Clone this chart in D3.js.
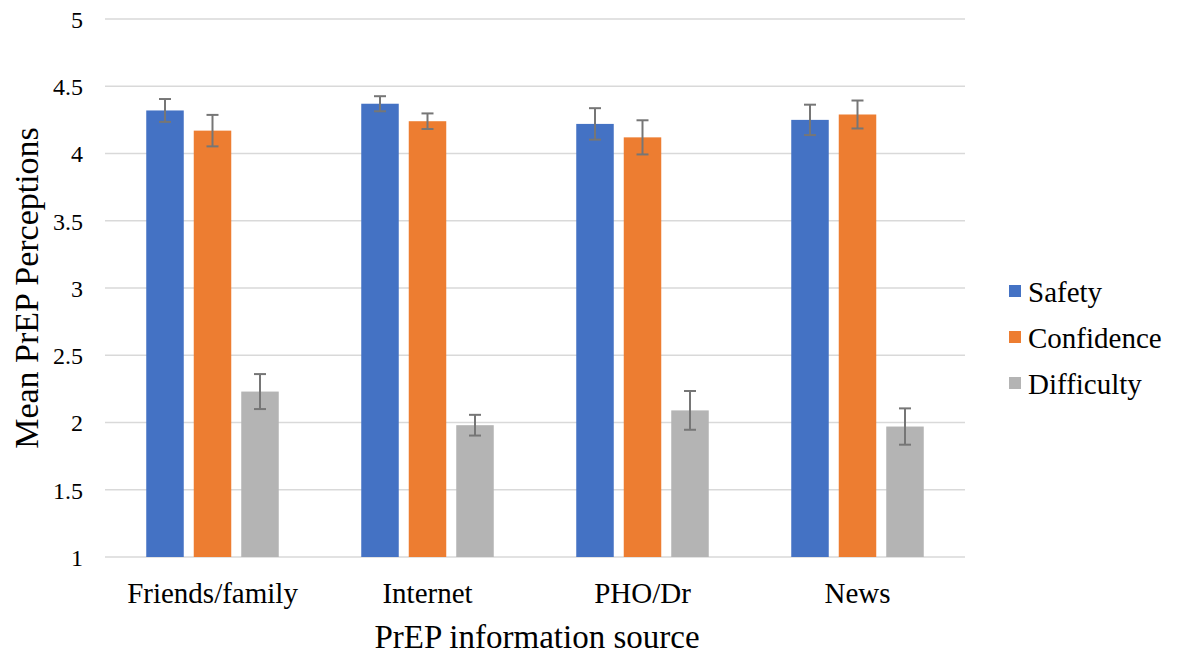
<!DOCTYPE html>
<html>
<head>
<meta charset="utf-8">
<script src="https://cdn.jsdelivr.net/npm/d3@7"></script>
<style>
  html, body { margin: 0; padding: 0; background: #fff; }
  svg { display: block; }
  svg text { font-family: "Liberation Serif", "Times New Roman", serif !important; fill: #000; }
</style>
</head>
<body>
<svg id="chart" width="1180" height="658"></svg>
<script>
const categories = ["Friends/family", "Internet", "PHO/Dr", "News"];
const seriesNames = ["Safety", "Confidence", "Difficulty"];
const seriesColors = ["#4472C4", "#ED7D31", "#B4B4B4"];
const safety = [4.32, 4.37, 4.22, 4.25];
const confidence = [4.17, 4.24, 4.12, 4.29];
const difficulty = [2.23, 1.98, 2.09, 1.97];
const safetyErr = [0.085, 0.056, 0.117, 0.113];
const confidenceErr = [0.117, 0.058, 0.127, 0.104];
const difficultyErr = [0.13, 0.077, 0.144, 0.135];
const yTicks = [1, 1.5, 2, 2.5, 3, 3.5, 4, 4.5, 5];

const seriesValues = [safety, confidence, difficulty];
const seriesErrors = [safetyErr, confidenceErr, difficultyErr];
const SERIF = "Liberation Serif, Times New Roman, serif";

const svg = d3.select("#chart");
const plot = { left: 105, right: 965, top: 19, bottom: 557 };

const x0 = d3.scaleBand().domain(categories).range([plot.left, plot.right]).paddingInner(0).paddingOuter(0);
const groupWidth = 132.5;
const x1 = d3.scaleBand().domain(seriesNames).range([0, groupWidth]).paddingInner(0.2105).paddingOuter(0);
const groupOffset = (x0.bandwidth() - groupWidth) / 2;
const y = d3.scaleLinear().domain([1, 5]).range([plot.bottom, plot.top]);

// gridlines
svg.append("g").selectAll("line").data(yTicks).join("line")
  .attr("x1", plot.left).attr("x2", plot.right)
  .attr("y1", d => y(d)).attr("y2", d => y(d))
  .attr("stroke", "#d9d9d9").attr("stroke-width", 1.5);

// y axis labels
const yAxis = d3.axisLeft(y).tickValues(yTicks).tickSize(0).tickPadding(0).tickFormat(d3.format("~g"));
const yg = svg.append("g").attr("transform", `translate(83,0)`).call(yAxis);
yg.attr("font-family", SERIF);
yg.select(".domain").remove();
yg.selectAll("text").attr("font-size", 24).style("font-family", SERIF).attr("fill", "#000").attr("dy", "0.35em");

// x axis labels
const xAxis = d3.axisBottom(x0).tickSize(0).tickPadding(0);
const xg = svg.append("g").attr("transform", `translate(0,603)`).call(xAxis);
xg.attr("font-family", SERIF);
xg.select(".domain").remove();
xg.selectAll("text").attr("font-size", 29).style("font-family", SERIF).attr("fill", "#000").attr("dy", 0);

// bars
const data = [];
categories.forEach((c, i) => {
  seriesNames.forEach((s, j) => {
    data.push({ cat: c, series: s, value: seriesValues[j][i], err: seriesErrors[j][i], color: seriesColors[j] });
  });
});

svg.append("g").selectAll("rect").data(data).join("rect")
  .attr("x", d => x0(d.cat) + groupOffset + x1(d.series))
  .attr("y", d => y(d.value))
  .attr("width", x1.bandwidth())
  .attr("height", d => y(1) - y(d.value))
  .attr("fill", d => d.color);

// error bars
const eg = svg.append("g").attr("stroke", "#767676").attr("stroke-width", 2);
data.forEach(d => {
  const cx = x0(d.cat) + groupOffset + x1(d.series) + x1.bandwidth() / 2;
  const top = y(d.value + d.err), bot = y(d.value - d.err);
  eg.append("line").attr("x1", cx).attr("x2", cx).attr("y1", top).attr("y2", bot);
  eg.append("line").attr("x1", cx - 6).attr("x2", cx + 6).attr("y1", top).attr("y2", top);
  eg.append("line").attr("x1", cx - 6).attr("x2", cx + 6).attr("y1", bot).attr("y2", bot);
});

// axis titles
svg.append("text").attr("x", (plot.left + plot.right) / 2 + 2).attr("y", 648)
  .attr("text-anchor", "middle").attr("font-size", 33).style("font-family", SERIF).text("PrEP information source");
svg.append("text").attr("transform", `translate(38,${(plot.top + plot.bottom) / 2}) rotate(-90)`)
  .attr("text-anchor", "middle").attr("font-size", 34).style("font-family", SERIF).text("Mean PrEP Perceptions");

// legend
const lg = svg.append("g").attr("transform", "translate(1009,0)");
seriesNames.forEach((s, i) => {
  const by = 302 + i * 46;
  lg.append("rect").attr("x", 0).attr("y", by - 17).attr("width", 12).attr("height", 12).attr("fill", seriesColors[i]);
  lg.append("text").attr("x", 19).attr("y", by).attr("font-size", 29).style("font-family", SERIF).text(s);
});
</script>
</body>
</html>
